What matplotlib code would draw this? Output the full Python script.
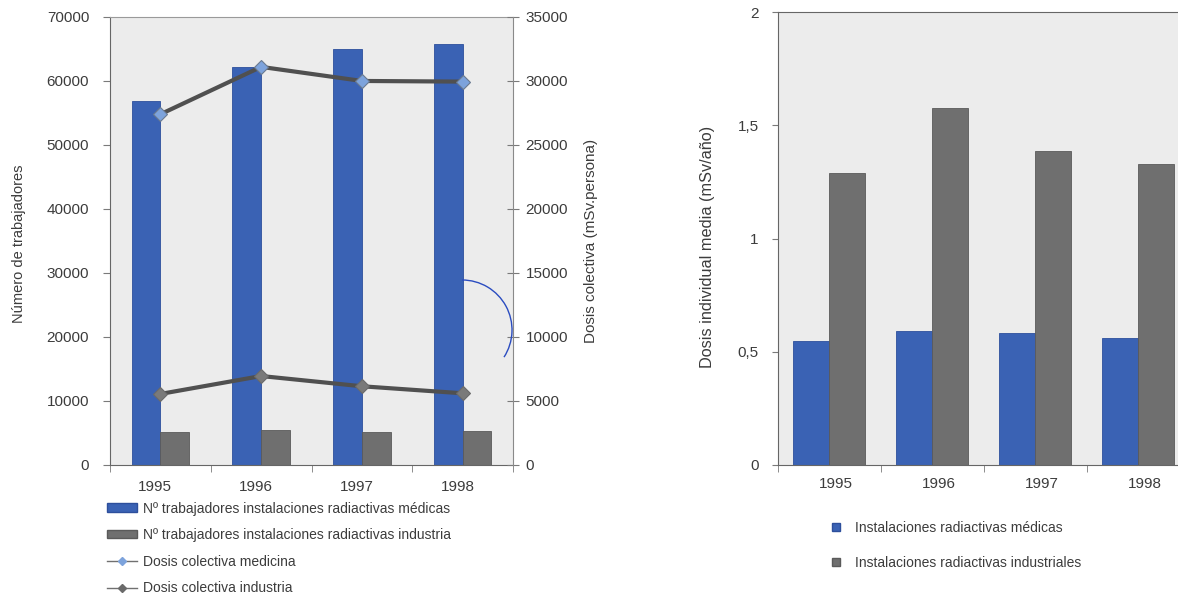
import numpy as np
import matplotlib
matplotlib.use("Agg")
import matplotlib.pyplot as plt
from matplotlib.patches import Patch, Arc
from matplotlib.lines import Line2D
from matplotlib.ticker import FuncFormatter

plt.rcParams['font.family'] = ['Liberation Sans', 'DejaVu Sans']

# datos
anios = ['1995', '1996', '1997', '1998']
trab_medicas = [56800, 62200, 65000, 65700]
trab_industria = [5100, 5400, 5200, 5300]
dosis_col_medicina = [27400, 31100, 30000, 29950]
dosis_col_industria = [5550, 6950, 6150, 5600]
dosis_ind_medicas = [0.547, 0.590, 0.583, 0.560]
dosis_ind_industriales = [1.290, 1.576, 1.386, 1.330]

azul = '#3a62b4'
gris = '#6f6f6f'
fondo = '#ececec'
texto = '#3c3c3c'
eje = '#7a7a7a'

x = np.arange(len(anios))
fig = plt.figure(figsize=(11.78, 5.95), dpi=100)

# ---- grafico izquierdo: trabajadores y dosis colectiva ----
ax = fig.add_axes([0.0934, 0.2185, 0.3421, 0.7530])
ax.set_facecolor(fondo)
w = 0.285
ax.bar(x - w / 2, trab_medicas, w, color=azul, edgecolor='#2d4f9c', linewidth=0.6)
ax.bar(x + w / 2, trab_industria, w, color=gris, edgecolor='#5a5a5a', linewidth=0.6)
ax.set_xlim(-0.5, 3.5)
ax.set_ylim(0, 70000)
ax.set_yticks(range(0, 70001, 10000))
ax.set_xticks(x - 0.05)
ax.set_xticklabels(anios)
ax.set_xticks(np.arange(-0.5, 3.6, 1), minor=True)
ax.tick_params(axis='x', which='major', length=0, pad=10.5, labelsize=11, labelcolor=texto)
ax.tick_params(axis='x', which='minor', length=5, color=eje, direction='out')
ax.tick_params(axis='y', length=5, color=eje, pad=10, labelsize=11, labelcolor=texto)
for s in ['left', 'bottom']:
    ax.spines[s].set_color('#666666')
ax.spines['top'].set_color('#9a9a9a')
ax.spines['right'].set_visible(False)
ax.set_ylabel('Número de trabajadores', fontsize=10.5, color=texto)
ax.yaxis.set_label_coords(-0.208, 0.494)

ax2 = ax.twinx()
ax2.plot(x, dosis_col_medicina, color='#505050', lw=3, marker='D', ms=7,
         mfc='#7da3dc', mec='#6a7a90', mew=0.8)
ax2.plot(x, dosis_col_industria, color='#505050', lw=3, marker='D', ms=7,
         mfc='#7a7a7a', mec='#6a6a6a', mew=0.8)
ax2.set_ylim(0, 35000)
ax2.set_yticks(range(0, 35001, 5000))
ax2.tick_params(axis='y', direction='inout', length=8, color=eje, pad=5,
                labelsize=11, labelcolor=texto)
for s in ['left', 'top', 'bottom']:
    ax2.spines[s].set_visible(False)
ax2.spines['right'].set_color('#8a8a8a')
ax2.set_ylabel('Dosis colectiva (mSv.persona)', fontsize=11, color=texto)
ax2.yaxis.set_label_coords(1.175, 0.5)

# trazo de boligrafo sobre la hoja
fig.patches.append(Arc((0.3922, 0.4454), 100 / 1178, 100 / 595, theta1=-52, theta2=90,
                       transform=fig.transFigure, color='#2a4cc0', lw=1.0))

manejadores = [
    Patch(facecolor=azul, edgecolor='#2d4f9c'),
    Patch(facecolor=gris, edgecolor='#5a5a5a'),
    Line2D([], [], color='#707070', lw=1, marker='D', ms=4, mfc='#7da3dc', mec='#7da3dc'),
    Line2D([], [], color='#707070', lw=1, marker='D', ms=4, mfc='#6a6a6a', mec='#6a6a6a'),
]
etiquetas = [
    'Nº trabajadores instalaciones radiactivas médicas',
    'Nº trabajadores instalaciones radiactivas industria',
    'Dosis colectiva medicina',
    'Dosis colectiva industria',
]
fig.legend(manejadores, etiquetas, loc='upper left', bbox_to_anchor=(0.0905, 0.157),
           frameon=False, borderpad=0, borderaxespad=0, handlelength=2.2,
           handleheight=0.55, handletextpad=0.45, labelspacing=0.9,
           prop={'size': 10}, labelcolor=texto)

# ---- grafico derecho: dosis individual media ----
bx = fig.add_axes([0.6604, 0.2185, 0.3497, 0.7613])
bx.set_facecolor(fondo)
w2 = 0.35
bx.bar(x - w2 / 2, dosis_ind_medicas, w2, color=azul, edgecolor='#2d4f9c', linewidth=0.6)
bx.bar(x + w2 / 2, dosis_ind_industriales, w2, color=gris, edgecolor='#5a5a5a', linewidth=0.6)
bx.set_xlim(-0.5, 3.5)
bx.set_ylim(0, 2)
bx.set_yticks([0, 0.5, 1, 1.5, 2])
bx.yaxis.set_major_formatter(FuncFormatter(lambda v, p: f'{v:g}'.replace('.', ',')))
bx.set_xticks(x + 0.06)
bx.set_xticklabels(anios)
bx.set_xticks(np.arange(-0.5, 3.6, 1), minor=True)
bx.tick_params(axis='x', which='major', length=0, pad=9, labelsize=11, labelcolor=texto)
bx.tick_params(axis='x', which='minor', length=5, color=eje, direction='out')
bx.tick_params(axis='y', length=4, color=eje, pad=10, labelsize=11, labelcolor=texto)
for s in ['left', 'bottom', 'top']:
    bx.spines[s].set_color('#666666')
bx.spines['right'].set_visible(False)
bx.set_ylabel('Dosis individual media (mSv/año)', fontsize=11.7, color=texto)
bx.yaxis.set_label_coords(-0.152, 0.481)

manejadores2 = [
    Line2D([], [], ls='none', marker='s', ms=6, mfc=azul, mec='#2d4f9c'),
    Line2D([], [], ls='none', marker='s', ms=6, mfc=gris, mec='#5a5a5a'),
]
fig.legend(manejadores2, ['Instalaciones radiactivas médicas',
                          'Instalaciones radiactivas industriales'],
           loc='upper left', bbox_to_anchor=(0.7035, 0.1246), frameon=False,
           borderpad=0, borderaxespad=0, handlelength=1.0, handletextpad=0.9,
           labelspacing=1.5, prop={'size': 10}, labelcolor=texto)

fig.savefig('out.png', dpi=100, facecolor='white')
